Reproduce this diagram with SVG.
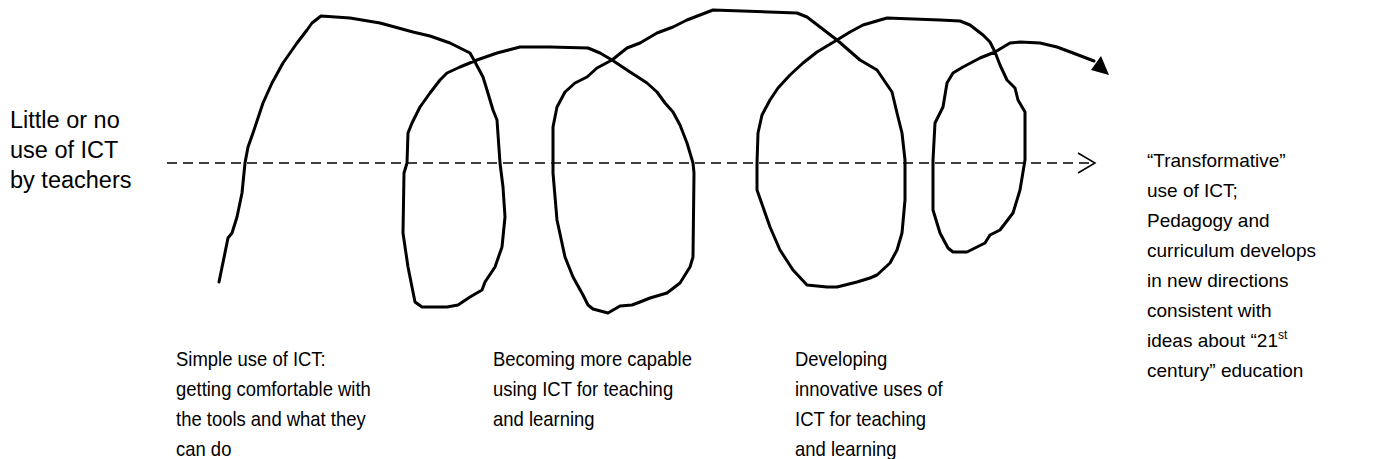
<svg xmlns="http://www.w3.org/2000/svg" width="1375" height="459" viewBox="0 0 1375 459">
<style>
  .t { font-family: "Liberation Sans", Arial, sans-serif; fill: #000; }
  .left { font-size: 23.5px; }
  .right { font-size: 19px; }
  .bottom { font-size: 20.5px; }
  .spiral { fill: none; stroke: #000; stroke-width: 3; stroke-linejoin: round; stroke-linecap: round; }
  .dash { fill: none; stroke: #000; stroke-width: 1.5; stroke-dasharray: 10 6; }
  .open { fill: none; stroke: #000; stroke-width: 1.5; }
</style>
<rect width="1375" height="459" fill="#fff"/>
<g id="connectors">
  <path class="dash" d="M167,163 L1093,163"/>
  <path class="open" d="M1078,153 L1095,163 L1078,173"/>
  <path class="spiral" d="M219,282 L228,238 L232,233 L237,217 L242,193 L245,163 L248,147 L253,133 L258,118 L263,103 L272,83 L283,63 L297,43 L307,30 L312,23 L321,16 L350,18 L380,23 L413,32 L430,36 L450,43 L460,48 L470,53 L475,62 L483,77 L487,90 L493,110 L497,120 L500,163 L503,187 L505,217 L502,247 L495,267 L485,282 L482,290 L470,297 L458,305 L447,307 L422,307 L415,302 L412,287 L408,267 L403,233 L404,173 L407,163 L408,133 L412,123 L420,107 L430,93 L440,80 L447,73 L460,67 L477,60 L497,53 L520,47 L550,47 L588,48 L600,53 L612,60 L627,70 L647,83 L657,92 L665,103 L673,112 L680,125 L687,143 L693,163 L694,173 L693,257 L690,267 L680,283 L667,293 L650,298 L640,302 L632,305 L620,306 L608,313 L593,309 L588,305 L583,295 L573,277 L565,257 L557,220 L553,173 L553,127 L557,107 L565,92 L575,83 L587,77 L597,68 L612,60 L627,48 L640,43 L657,33 L673,27 L687,20 L713,10 L797,13 L807,17 L820,27 L837,40 L860,60 L877,70 L892,92 L897,113 L902,133 L905,160 L905,200 L902,233 L897,250 L890,263 L877,275 L870,278 L857,282 L837,287 L827,287 L807,285 L793,270 L780,250 L770,227 L763,207 L757,190 L757,163 L758,133 L762,115 L770,100 L778,88 L790,75 L803,63 L817,52 L837,40 L850,32 L863,25 L887,18 L940,20 L960,21 L970,25 L983,35 L990,42 L995,52 L1000,65 L1007,80 L1015,88 L1018,100 L1025,112 L1025,160 L1020,190 L1013,213 L1000,230 L990,235 L985,243 L967,252 L953,252 L948,248 L940,233 L933,210 L933,160 L935,123 L943,107 L947,83 L953,73 L963,67 L980,58 L995,52 L1010,43 L1020,42 L1040,43 L1057,47 L1073,53 L1094,61"/>
  <polygon points="1101,56 1091,70 1109,75" fill="#000"/>
</g>
<g id="start-label">
  <text class="t left" x="10" y="128">Little or no</text>
  <text class="t left" x="10" y="158">use of ICT</text>
  <text class="t left" x="10" y="188">by teachers</text>
</g>
<g id="end-label">
  <text class="t right" x="1147" y="167">“Transformative”</text>
  <text class="t right" x="1147" y="197">use of ICT;</text>
  <text class="t right" x="1147" y="227">Pedagogy and</text>
  <text class="t right" x="1147" y="257">curriculum develops</text>
  <text class="t right" x="1147" y="287">in new directions</text>
  <text class="t right" x="1147" y="317">consistent with</text>
  <text class="t right" x="1147" y="347">ideas about “21<tspan font-size="12" dy="-8">st</tspan></text>
  <text class="t right" x="1147" y="377">century” education</text>
</g>
<g id="stage1">
  <text class="t bottom" transform="translate(176,366) scale(0.9,1)"><tspan x="0" y="0">Simple use of ICT:</tspan><tspan x="0" y="30">getting comfortable with</tspan><tspan x="0" y="60">the tools and what they</tspan><tspan x="0" y="90">can do</tspan></text>
</g>
<g id="stage2">
  <text class="t bottom" transform="translate(493,366) scale(0.9,1)"><tspan x="0" y="0">Becoming more capable</tspan><tspan x="0" y="30">using ICT for teaching</tspan><tspan x="0" y="60">and learning</tspan></text>
</g>
<g id="stage3">
  <text class="t bottom" transform="translate(795,366) scale(0.9,1)"><tspan x="0" y="0">Developing</tspan><tspan x="0" y="30">innovative uses of</tspan><tspan x="0" y="60">ICT for teaching</tspan><tspan x="0" y="90">and learning</tspan></text>
</g>
</svg>
